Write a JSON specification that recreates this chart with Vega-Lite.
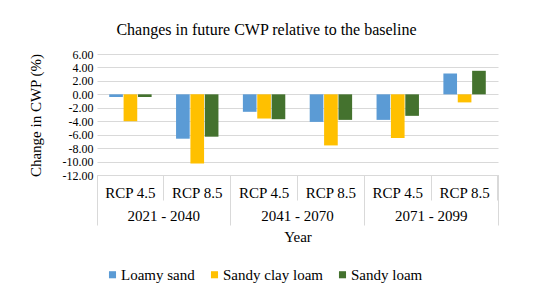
{
  "$schema": "https://vega.github.io/schema/vega-lite/v6.json",
  "autosize": {"type": "none"},
  "width": 401,
  "height": 121,
  "padding": {"left": 97, "top": 54, "right": 52, "bottom": 130},
  "background": "white",
  "config": {
    "font": "Liberation Serif",
    "view": {"stroke": null},
    "axis": {"labelFont": "Liberation Serif", "titleFont": "Liberation Serif", "labelColor": "#000", "titleColor": "#000", "labelFontSize": 15, "titleFontSize": 15, "titleFontWeight": "normal"},
    "legend": {"labelFont": "Liberation Serif", "labelFontSize": 15, "labelColor": "#000"}
  },
  "title": {"text": "Changes in future CWP relative to the baseline", "font": "Liberation Serif", "fontSize": 16, "fontWeight": "normal", "color": "#000", "offset": 10, "dx": -31},
  "datasets": {
    "bars": [
      {"cat": "2021 - 2040|RCP 4.5", "soil": "Loamy sand", "value": -0.4},
      {"cat": "2021 - 2040|RCP 4.5", "soil": "Sandy clay loam", "value": -4.0},
      {"cat": "2021 - 2040|RCP 4.5", "soil": "Sandy loam", "value": -0.4},
      {"cat": "2021 - 2040|RCP 8.5", "soil": "Loamy sand", "value": -6.6},
      {"cat": "2021 - 2040|RCP 8.5", "soil": "Sandy clay loam", "value": -10.3},
      {"cat": "2021 - 2040|RCP 8.5", "soil": "Sandy loam", "value": -6.3},
      {"cat": "2041 - 2070|RCP 4.5", "soil": "Loamy sand", "value": -2.6},
      {"cat": "2041 - 2070|RCP 4.5", "soil": "Sandy clay loam", "value": -3.6},
      {"cat": "2041 - 2070|RCP 4.5", "soil": "Sandy loam", "value": -3.7},
      {"cat": "2041 - 2070|RCP 8.5", "soil": "Loamy sand", "value": -4.1},
      {"cat": "2041 - 2070|RCP 8.5", "soil": "Sandy clay loam", "value": -7.6},
      {"cat": "2041 - 2070|RCP 8.5", "soil": "Sandy loam", "value": -3.8},
      {"cat": "2071 - 2099|RCP 4.5", "soil": "Loamy sand", "value": -3.8},
      {"cat": "2071 - 2099|RCP 4.5", "soil": "Sandy clay loam", "value": -6.5},
      {"cat": "2071 - 2099|RCP 4.5", "soil": "Sandy loam", "value": -3.2},
      {"cat": "2071 - 2099|RCP 8.5", "soil": "Loamy sand", "value": 3.1},
      {"cat": "2071 - 2099|RCP 8.5", "soil": "Sandy clay loam", "value": -1.2},
      {"cat": "2071 - 2099|RCP 8.5", "soil": "Sandy loam", "value": 3.5}
    ],
    "periods": [
      {"period": "2021 - 2040"},
      {"period": "2041 - 2070"},
      {"period": "2071 - 2099"}
    ]
  },
  "layer": [
    {
      "data": {"name": "bars"},
      "mark": {"type": "bar"},
      "encoding": {
        "x": {
          "field": "cat", "type": "nominal",
          "sort": ["2021 - 2040|RCP 4.5", "2021 - 2040|RCP 8.5", "2041 - 2070|RCP 4.5", "2041 - 2070|RCP 8.5", "2071 - 2099|RCP 4.5", "2071 - 2099|RCP 8.5"],
          "scale": {"paddingInner": 0, "paddingOuter": 0},
          "axis": {
            "orient": "bottom", "title": null, "labelAngle": 0,
            "labelExpr": "split(datum.label, '|')[1]",
            "bandPosition": 1, "tickExtra": true, "tickSize": 25, "tickColor": "#d9d9d9",
            "domainColor": "#d9d9d9", "labelBaseline": "middle", "labelPadding": -8, "grid": false
          }
        },
        "xOffset": {
          "field": "soil", "type": "nominal",
          "sort": ["Loamy sand", "Sandy clay loam", "Sandy loam"],
          "scale": {"paddingInner": 0.05, "paddingOuter": 0.85}
        },
        "y": {
          "field": "value", "type": "quantitative",
          "scale": {"domain": [-12, 6], "nice": false},
          "axis": {
            "title": "Change in CWP (%)", "values": [-12, -10, -8, -6, -4, -2, 0, 2, 4, 6],
            "labelExpr": "replace(format(datum.value, '.2f'), '\u2212', '-')",
            "labelOverlap": false, "labelFontSize": 12,
            "ticks": false, "domain": false, "gridColor": "#d9d9d9", "labelPadding": 4,
            "titleX": -62, "titleY": 61, "titleBaseline": "middle", "titleAngle": -90
          }
        },
        "color": {
          "field": "soil", "type": "nominal",
          "sort": ["Loamy sand", "Sandy clay loam", "Sandy loam"],
          "scale": {"range": ["#5B9BD5", "#FFC000", "#44722E"]},
          "legend": {
            "title": null, "orient": "none", "direction": "horizontal",
            "legendX": 8, "legendY": 213, "symbolType": "square", "symbolSize": 50,
            "symbolStrokeWidth": 0, "labelOffset": 1, "columnPadding": 12,
            "labelFont": "Liberation Serif", "labelFontSize": 15, "labelColor": "#000"
          }
        }
      }
    },
    {
      "data": {"name": "periods"},
      "mark": {"type": "point", "opacity": 0},
      "encoding": {
        "x": {
          "field": "period", "type": "nominal",
          "scale": {"type": "band", "paddingInner": 0, "paddingOuter": 0},
          "axis": {
            "orient": "bottom", "title": "Year", "labelAngle": 0,
            "bandPosition": 1, "tickExtra": true, "tickSize": 50, "tickColor": "#d9d9d9",
            "domainColor": "#d9d9d9", "labelBaseline": "middle", "labelPadding": -10,
            "titlePadding": 4, "grid": false
          }
        }
      }
    }
  ],
  "resolve": {"scale": {"x": "independent"}}
}
